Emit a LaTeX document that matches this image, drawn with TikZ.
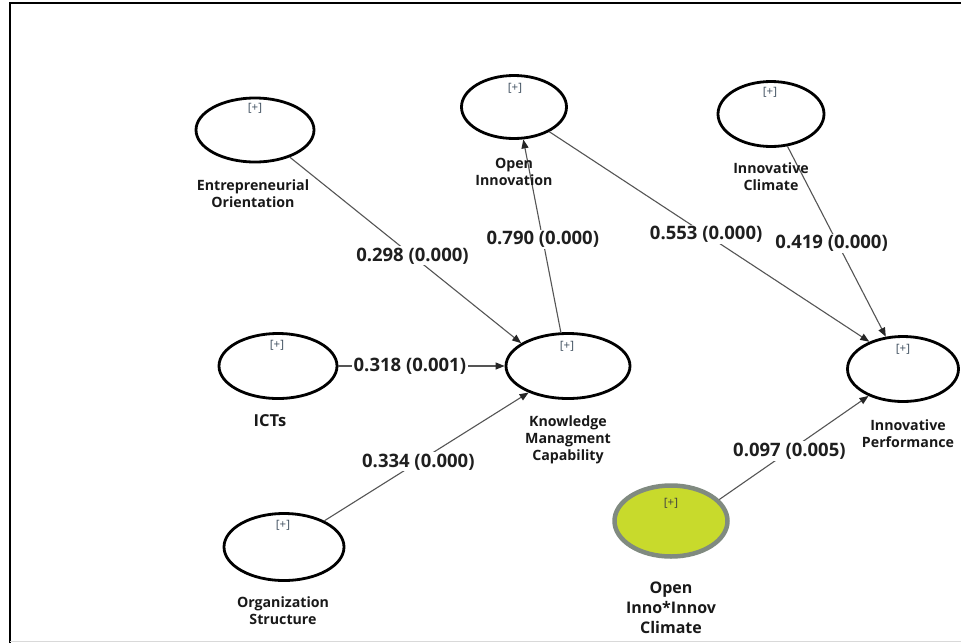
\documentclass[tikz,border=0pt]{standalone}
\usepackage{fontspec}
\setmainfont{Open Sans}
\usetikzlibrary{shapes.geometric,arrows.meta}
\definecolor{modfill}{HTML}{C8DA2C}
\definecolor{modedge}{HTML}{808A80}
\definecolor{plusc}{HTML}{3E4E5E}
\definecolor{arrc}{HTML}{555555}
\tikzset{
  lat/.style={ellipse, draw=black, line width=2.8pt, inner sep=0pt},
  modlat/.style={ellipse, draw=modedge, fill=modfill, line width=4.5pt, inner sep=0pt},
  plusmark/.style={font=\fontsize{11.5}{13}\selectfont, text=plusc, inner sep=0pt},
  vname/.style={font=\bfseries\fontsize{14.2}{17}\selectfont, align=center, inner sep=0pt, text=black!90},
  arr/.style={draw=arrc, line width=1.1pt, -{Triangle[length=9pt,width=7pt,color=black!85]}},
  lbl/.style={font=\bfseries\fontsize{18.5}{21}\selectfont, fill=white, inner sep=1.5pt, text=black!88}
}
\begin{document}
\begin{tikzpicture}[x=1pt,y=-1pt]
\useasboundingbox (0,0) rectangle (961,643);
\fill[white] (0,0) rectangle (961,643);
% frame
\draw[line width=2.6pt] (10,643) -- (10,3) -- (961,3);
\draw[black!15, line width=1pt] (10,641.5) -- (961,641.5);

% latent variables
\node[lat, minimum width=118pt, minimum height=64pt] (EO) at (255,130) {};
\node[lat, minimum width=105pt, minimum height=63pt] (OI) at (514,107) {};
\node[lat, minimum width=106pt, minimum height=65pt] (IC) at (771,114) {};
\node[lat, minimum width=118pt, minimum height=65pt] (ICT) at (278,366) {};
\node[lat, minimum width=124pt, minimum height=65pt] (KMC) at (568,366) {};
\node[lat, minimum width=120pt, minimum height=67pt] (OS) at (284,547) {};
\node[lat, minimum width=111pt, minimum height=65pt] (IP) at (903,369) {};
\node[modlat, minimum width=113pt, minimum height=71pt] (MOD) at (671,521) {};

% [+] markers
\node[plusmark] (pEO) at (255,108) {[+]};
\node[plusmark] (pOI) at (515,88) {[+]};
\node[plusmark] (pIC) at (770,92) {[+]};
\node[plusmark] (pICT) at (277,345) {[+]};
\node[plusmark] (pKMC) at (567,346) {[+]};
\node[plusmark] (pOS) at (283,525) {[+]};
\node[plusmark] (pIP) at (903,349) {[+]};
\node[plusmark, text=black!75] (pMOD) at (671,503) {[+]};

% paths
\draw[arr] (EO.-38) -- node[lbl, pos=0.53] (l1) {0.298 (0.000)} (KMC.154);
\draw[arr] (KMC.102) -- node[lbl, pos=0.48] (l2) {0.790 (0.000)} (OI.-74);
\draw[arr] (OI.-35) -- node[lbl, pos=0.49] (l3) {0.553 (0.000)} (IP.141);
\draw[arr] (IC.-63) -- node[lbl, pos=0.51, xshift=-6pt] (l4) {0.419 (0.000)} (IP.118);
\draw[arr] (ICT.east) -- node[lbl, pos=0.43] (l5) {0.318 (0.001)} (KMC.west);
\draw[arr] (OS.33) -- node[lbl, pos=0.46] (l6) {0.334 (0.000)} (KMC.-146);
\draw[arr] (MOD.24) -- node[lbl, pos=0.47] (l7) {0.097 (0.005)} (IP.-142);

% names
\node[vname] (nEO) at (253,194) {Entrepreneurial\\Orientation};
\node[vname] (nOI) at (514,172) {Open\\Innovation};
\node[vname] (nIC) at (771,177) {Innovative\\Climate};
\node[vname, font=\bfseries\fontsize{16.5}{19}\selectfont] (nICT) at (270,421) {ICTs};
\node[vname] (nKMC) at (568,440) {Knowledge\\Managment\\Capability};
\node[vname] (nOS) at (283,611) {Organization\\Structure};
\node[vname] (nIP) at (908,434) {Innovative\\Performance};
\node[vname, font=\bfseries\fontsize{16}{20}\selectfont] (nMOD) at (671,608) {Open\\Inno*Innov\\Climate};
\end{tikzpicture}
\end{document}
